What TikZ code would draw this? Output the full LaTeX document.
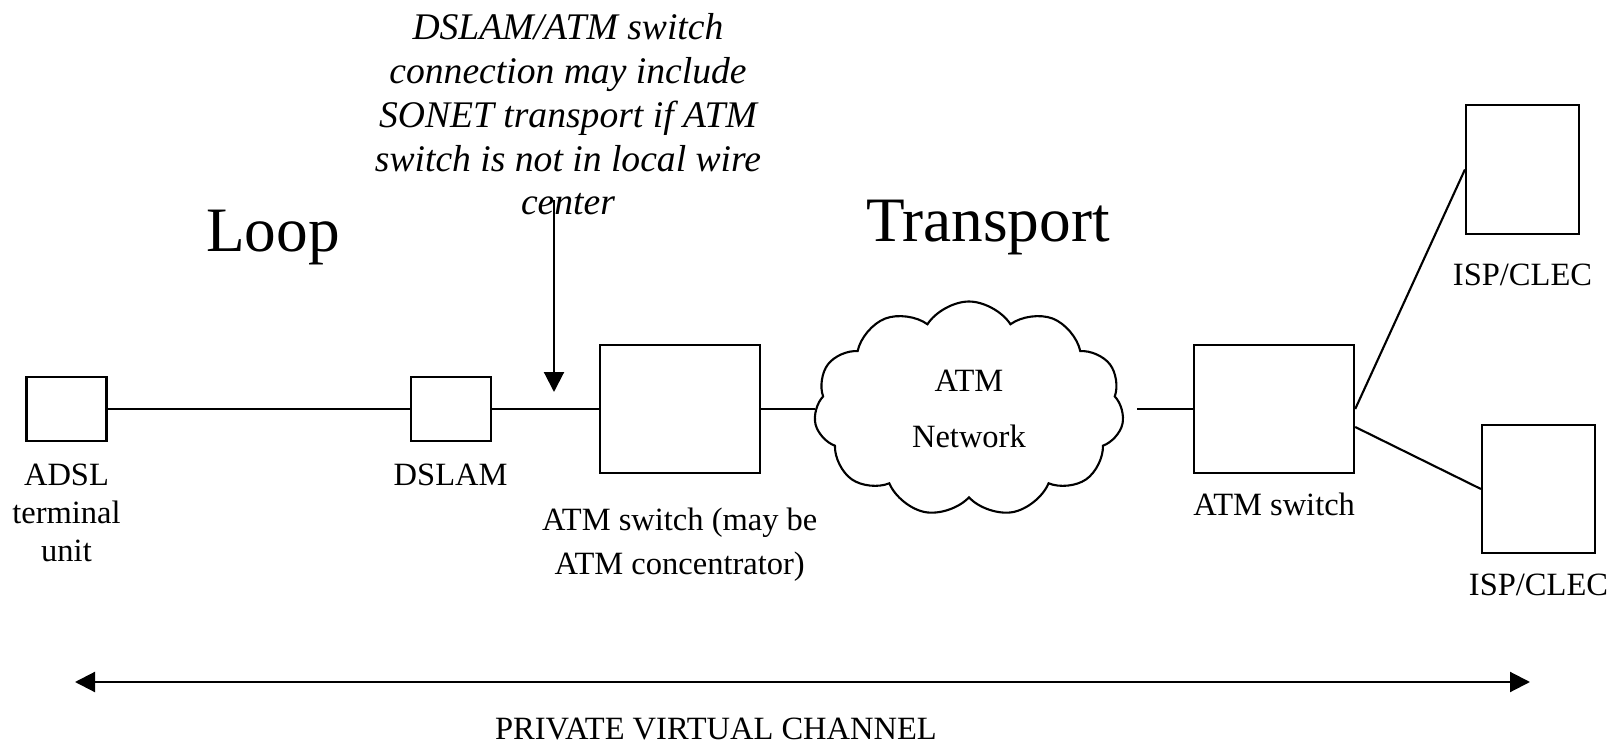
\documentclass[tikz,border=0pt]{standalone}
\usepackage{fontspec}
\setmainfont{Liberation Serif}
\usetikzlibrary{arrows.meta,positioning,shapes.symbols}

\begin{document}
\begin{tikzpicture}[
			unit/.style={draw,line width=0.6pt,inner sep=0pt},
			lbl/.style={align=center,inner sep=0pt,font=\fontsize{9.25}{10.8}\selectfont},
			note/.style={align=center,inner sep=0pt,font=\fontsize{10.7}{12.45}\selectfont\itshape},
			big/.style={inner sep=0pt,anchor=base,font=\fontsize{18}{21}\selectfont},
			link/.style={line width=0.6pt},
			arr/.style={line width=0.6pt,-{Triangle[length=2mm,width=2mm]}}
			]
			\useasboundingbox (0,0) rectangle (16.18,7.41);
			% access chain
			\node[unit,minimum width=0.8cm,minimum height=0.64cm] (adsl) at (0.665,3.32) {};
			\node[unit,minimum width=0.8cm,minimum height=0.64cm] (dslam) [right=3.02cm of adsl] {};
			\node[unit,minimum width=1.6cm,minimum height=1.28cm] (sw1) [right=1.07cm of dslam] {};
			\node[cloud,draw,line width=0.6pt,cloud puffs=11,cloud puff arc=115,minimum width=3.1cm,minimum height=2.15cm,inner sep=0pt,align=center,font=\fontsize{9.25}{10.8}\selectfont] (net) [right=0.54cm of sw1] {ATM\\[5.2pt]Network};
			\node[unit,minimum width=1.6cm,minimum height=1.28cm] (sw2) [right=0.70cm of net] {};
			\node[unit,minimum width=1.13cm,minimum height=1.29cm] (isp1) at (15.225,5.715) {};
			\node[unit,minimum width=1.13cm,minimum height=1.28cm] (isp2) at (15.385,2.52) {};
			% labels
			\node[lbl,anchor=north] (adslTxt) [below=0.21cm of adsl] {ADSL\\terminal\\unit};
			\node[lbl,anchor=north] (dslamTxt) [below=0.21cm of dslam] {DSLAM};
			\node[lbl,anchor=north,font=\fontsize{9.25}{12.6}\selectfont] (sw1Txt) [below=0.33cm of sw1] {ATM switch (may be\\ATM concentrator)};
			\node[lbl,anchor=north] (sw2Txt) [below=0.18cm of sw2] {ATM switch};
			\node[lbl,anchor=north] (isp1Txt) [below=0.28cm of isp1] {ISP/CLEC};
			\node[lbl,anchor=north] (isp2Txt) [below=0.19cm of isp2] {ISP/CLEC};
			\node[big] (loop) at (2.73,4.90) {Loop};
			\node[big] (transp) at (9.88,4.995) {Transport};
			\node[note,anchor=north] (sonet) at (5.68,7.28) {DSLAM/ATM switch\\connection may include\\SONET transport if ATM\\switch is not in local wire\\center};
			\node[lbl,anchor=base] (pvc) at (7.16,0.02) {PRIVATE VIRTUAL CHANNEL};
			% connections
			\draw[link] (adsl) -- (dslam);
			\draw[link] (dslam) -- (sw1);
			\draw[link] (sw1) -- (net);
			\draw[link,shorten <=0.14cm] (net) -- (sw2);
			\draw[link] (sw2.east) -- (isp1.west);
			\draw[link] ([yshift=-0.18cm]sw2.east) -- (isp2.west);
			\coordinate (noteTop) at (5.54,5.41);
			\coordinate (noteTip) at (5.54,3.49);
			\draw[arr] (noteTop) -- (noteTip);
			\coordinate (pvcL) at (0.75,0.59);
			\coordinate (pvcR) at (15.30,0.59);
			\draw[arr,{Triangle[length=2mm,width=2mm]}-{Triangle[length=2mm,width=2mm]}] (pvcL) -- (pvcR);
		\end{tikzpicture}
\end{document}
